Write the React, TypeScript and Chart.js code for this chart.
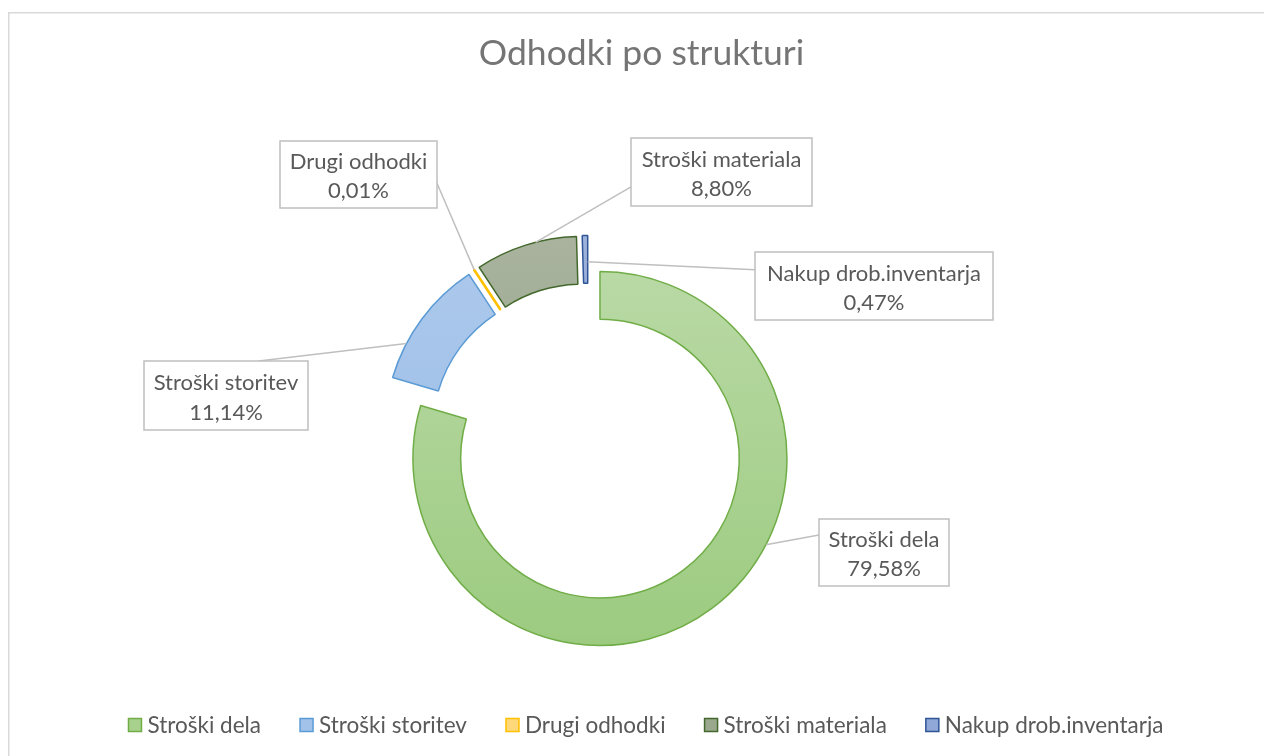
import React, { useEffect, useRef } from 'react';
import { Chart, registerables } from 'chart.js';

Chart.register(...registerables);

// ---- data ----
const chartTitle = 'Odhodki po strukturi';
const categories = ['Stroški dela', 'Stroški storitev', 'Drugi odhodki', 'Stroški materiala', 'Nakup drob.inventarja'];
const shares = [79.58, 11.14, 0.01, 8.8, 0.47];

// ---- styles ----
const borderColors = ['#70ad47', '#5b9bd5', '#ffc000', '#43682b', '#2f5597'];
const fillTop = ['#b9d9a5', '#adc9ec', '#ffd966', '#a9b39e', '#9db3db'];
const fillBottom = ['#9ccb80', '#97bae6', '#ffc000', '#8e9d82', '#7893c8'];
const legendFill = ['#a9d18e', '#a2c2e9', '#ffd87a', '#9aa88e', '#8fa8d8'];
const borderWidths = [1.5, 1.5, 2.5, 1.5, 1.5];

const FONT = 'Lato, "Open Sans", sans-serif';
const W = 1264;
const H = 756;
const EXPLODE = 20;
const RADIUS = 187;
const CUTOUT = '74.5%';
const CENTER_X = 588;
const CENTER_Y = 442.5;
const PAD_L = 300;
const PAD_T = 200;

const TITLE_SIZE = 35.5;
const LABEL_SIZE = 22;
const LEGEND_SIZE = 22.5;

// callout boxes: box rect, anchor fraction along segment (t), radius fraction (rf), attach point on box (ax, ay)
const calloutX = [819, 144, 280, 631, 755];
const calloutY = [519, 361, 141, 138, 252];
const calloutW = [130, 164, 157, 181, 238];
const calloutH = [67, 69, 67, 68, 68];
const anchorT = [0.41, 0.28, 0.5, 0.6, 1];
const anchorRF = [1, 1, 1, 1, 0.45];
const attachX = [0, 0.7, 1, 0, 0];
const attachY = [0.24, 0, 0.63, 0.72, 0.26];

const fmtPct = (v: number) => v.toFixed(2).replace('.', ',') + '%';

const explodePlugin = {
  id: 'explodeArcs',
  beforeDatasetDraw(chart: any, args: any) {
    const ctx = chart.ctx;
    args.meta.data.forEach((arc: any) => {
      const mid = (arc.startAngle + arc.endAngle) / 2;
      ctx.save();
      ctx.translate(Math.cos(mid) * EXPLODE, Math.sin(mid) * EXPLODE);
      arc.draw(ctx);
      ctx.restore();
    });
    return false;
  },
};

const decorPlugin = {
  id: 'decor',
  beforeDraw(chart: any) {
    const ctx = chart.ctx;
    ctx.save();
    ctx.fillStyle = '#ffffff';
    ctx.fillRect(0, 0, W, H);
    ctx.strokeStyle = '#d9d9d9';
    ctx.lineWidth = 1.5;
    ctx.strokeRect(8.75, 12.75, W + 20, H + 20);
    ctx.restore();
  },
  afterDraw(chart: any) {
    const ctx = chart.ctx;
    const meta = chart.getDatasetMeta(0);
    ctx.save();
    // title
    ctx.fillStyle = '#757575';
    ctx.font = `${TITLE_SIZE}px ${FONT}`;
    ctx.textAlign = 'center';
    ctx.textBaseline = 'alphabetic';
    ctx.fillText(chartTitle, 641.5, 64.5);

    // callouts
    meta.data.forEach((arc: any, i: number) => {
      const mid = (arc.startAngle + arc.endAngle) / 2;
      const cx = arc.x + Math.cos(mid) * EXPLODE;
      const cy = arc.y + Math.sin(mid) * EXPLODE;
      const a = arc.startAngle + anchorT[i] * (arc.endAngle - arc.startAngle);
      const r = arc.innerRadius + anchorRF[i] * (arc.outerRadius - arc.innerRadius);
      const px = cx + Math.cos(a) * r;
      const py = cy + Math.sin(a) * r;
      const bx = calloutX[i], by = calloutY[i], bw = calloutW[i], bh = calloutH[i];
      const qx = bx + attachX[i] * bw;
      const qy = by + attachY[i] * bh;
      ctx.strokeStyle = '#bfbfbf';
      ctx.lineWidth = 1.5;
      ctx.beginPath();
      ctx.moveTo(px, py);
      ctx.lineTo(qx, qy);
      ctx.stroke();
      ctx.fillStyle = '#ffffff';
      ctx.fillRect(bx, by, bw, bh);
      ctx.strokeRect(bx, by, bw, bh);
      ctx.fillStyle = '#595959';
      ctx.font = `${LABEL_SIZE}px ${FONT}`;
      ctx.textAlign = 'center';
      ctx.fillText(categories[i], bx + bw / 2, by + bh * 0.42);
      ctx.fillText(fmtPct(shares[i]), bx + bw / 2, by + bh * 0.85);
    });

    // legend
    ctx.font = `${LEGEND_SIZE}px ${FONT}`;
    ctx.textAlign = 'left';
    const MARK = 13;
    const MGAP = 6;
    const GAP = 39;
    const widths = categories.map((t) => ctx.measureText(t).width);
    const total = widths.reduce((s, w) => s + MARK + MGAP + w, 0) + GAP * (categories.length - 1);
    let x = 646 - total / 2;
    categories.forEach((t, i) => {
      ctx.fillStyle = legendFill[i];
      ctx.fillRect(x, 718.5, MARK, MARK);
      ctx.strokeStyle = borderColors[i];
      ctx.lineWidth = 1.5;
      ctx.strokeRect(x, 718.5, MARK, MARK);
      ctx.fillStyle = '#595959';
      ctx.fillText(t, x + MARK + MGAP, 732.5);
      x += MARK + MGAP + widths[i] + GAP;
    });
    ctx.restore();
  },
};

export default function App() {
  const ref = useRef<HTMLCanvasElement | null>(null);
  useEffect(() => {
    if (!ref.current) return;
    const chart = new Chart(ref.current, {
      type: 'doughnut',
      data: {
        labels: categories,
        datasets: [
          {
            data: shares,
            backgroundColor: (c: any) => {
              const i = c.dataIndex;
              if (i === undefined) return fillBottom[0];
              const area = c.chart.chartArea;
              if (!area) return fillBottom[i];
              const cy = (area.top + area.bottom) / 2;
              const g = c.chart.ctx.createLinearGradient(0, cy - RADIUS, 0, cy + RADIUS);
              g.addColorStop(0, fillTop[i]);
              g.addColorStop(1, fillBottom[i]);
              return g;
            },
            borderColor: borderColors,
            borderWidth: borderWidths,
            hoverOffset: 0,
            offset: 0,
          } as any,
        ],
      },
      options: {
        animation: false,
        responsive: false,
        maintainAspectRatio: false,
        events: [],
        radius: RADIUS,
        cutout: CUTOUT,
        layout: {
          padding: {
            left: PAD_L,
            right: W - (2 * CENTER_X - PAD_L),
            top: PAD_T,
            bottom: H - (2 * CENTER_Y - PAD_T),
          },
        },
        plugins: {
          legend: { display: false },
          title: { display: false },
          tooltip: { enabled: false },
        },
      } as any,
      plugins: [explodePlugin, decorPlugin],
    });
    return () => chart.destroy();
  }, []);
  return (
    <canvas
      ref={ref}
      width={W}
      height={H}
      style={{ position: 'fixed', left: 0, top: 0, width: W, height: H, display: 'block' }}
    />
  );
}
